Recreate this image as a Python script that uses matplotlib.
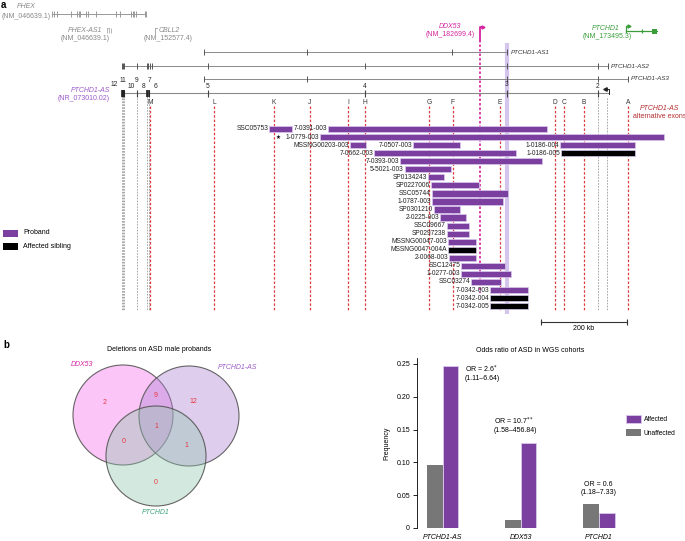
import numpy as np
import matplotlib.pyplot as plt
from matplotlib.patches import Circle, Rectangle

plt.rcParams['font.family'] = ['Liberation Sans', 'DejaVu Sans']
plt.rcParams['font.size'] = 5

purple = '#7b3f9f'
grey_bar = '#777777'
line_grey = '#8a8a8a'
red = '#e0393e'
magenta = '#d4249f'
green = '#3a9d3a'
as_purple = '#9b59c7'
dark_red = '#b32d2d'

# ---------------- panel a data (genomic positions in kb) ----------------
phex_exons = [-163, -158, -151, -119, -105, -100, -98, -84, -79, -60, -14, -5, 21, 26, 28, 33, 53, 56]
as1_exons = [191, 430, 768, 896]
as2_exons = [0, 2, 5, 35, 58, 61, 65, 70, 200, 565, 896, 1107, 1130]
as3_exons = [191, 430, 896, 1107, 1177]
as_exons = [0, 2, 5, 35, 58, 63, 200, 565, 896, 1107]
exon_num = ['12', '11', '10', '9', '8', '7', '6', '5', '4', '3', '2']
exon_num_pos = [-19, 2, 21, 33, 49, 63, 77, 200, 565, 896, 1107]

alt_names = ['M', 'L', 'K', 'J', 'I', 'H', 'G', 'F', 'E', 'D', 'C', 'B', 'A']
alt_pos = [65, 214, 354, 437, 526, 565, 714, 770, 879, 1007, 1028, 1075, 1177]

ddx53_pos = 833
exon3_pos = 896

carriers = ['SSC05753', '7-0391-003', '1-0779-003', 'MSSNG00203-003', '7-0507-003',
            '1-0186-004', '7-0662-003', '1-0186-005', '7-0393-003', '5-5021-003',
            'SP0134243', 'SP0227006', 'SSC05744', '1-0787-003', 'SP0301210',
            '2-0225-003', 'SSC09667', 'SP0297238', 'MSSNG00047-003', 'MSSNG0047-004A',
            '2-0068-003', 'SSC12475', '1-0277-003', 'SSC03274', '7-0342-003',
            '7-0342-004', '7-0342-005']
del_row = [0, 0, 1, 2, 2, 2, 3, 3, 4, 5, 6, 7, 8, 9, 10, 11, 12, 13, 14, 15, 16, 17, 18, 19, 20, 21, 22]
del_start = [342, 479, 461, 530, 677, 1019, 586, 1021, 647, 658, 712, 719, 721, 721, 726,
             740, 756, 756, 758, 758, 761, 789, 789, 812, 856, 856, 856]
del_end = [395, 989, 1261, 568, 786, 1193, 916, 1193, 977, 765, 749, 830, 898, 886, 786,
           800, 807, 807, 823, 823, 823, 891, 905, 882, 944, 944, 944]
del_sibling = [0, 0, 0, 0, 0, 0, 0, 1, 0, 0, 0, 0, 0, 0, 0, 0, 0, 0, 0, 1, 0, 0, 0, 0, 0, 1, 1]

# ---------------- panel b data ----------------
venn_sets = ['DDX53', 'PTCHD1-AS', 'PTCHD1']
venn_counts = {'DDX53': 2, 'DDX53&PTCHD1-AS': 9, 'PTCHD1-AS': 12, 'all': 1,
               'DDX53&PTCHD1': 0, 'PTCHD1-AS&PTCHD1': 1, 'PTCHD1': 0}

genes = ['PTCHD1-AS', 'DDX53', 'PTCHD1']
freq_affected = [0.247, 0.129, 0.023]
freq_unaffected = [0.096, 0.012, 0.037]
or_text = ['OR = 2.6$^{*}$', 'OR = 10.7$^{**}$', 'OR = 0.6']
ci_text = ['(1.11\u20136.64)', '(1.58\u2013456.84)', '(1.18\u20137.33)']

fig = plt.figure(figsize=(6.85, 5.41), dpi=100)

# ---------------- panel a: x in kb, y in pixel rows ----------------
ax = fig.add_axes([0, 0, 1, 1])
ax.set_xlim(-284, 1310)
ax.set_ylim(541, 0)
ax.axis('off')

ax.text(-282, 5, 'a', fontsize=7, fontweight='bold', va='center', ha='left')

# PHEX and neighbours (grey)
ax.plot([min(phex_exons), max(phex_exons)], [14, 14], color='#999999', lw=0.7)
ax.vlines(phex_exons, 11, 17, color='#999999', lw=0.7)
ax.text(-223, 6, 'PHEX', style='italic', color='#888888', ha='center', va='center')
ax.text(-223, 16, '(NM_046639.1)', color='#888888', ha='center', va='center')
ax.vlines([-34, -31, -25], 28, 33, color='#aaaaaa', lw=0.6)
ax.plot([-34, -31], [28, 28], color='#aaaaaa', lw=0.6)
ax.text(-86, 30, 'PHEX-AS1', style='italic', color='#888888', ha='center', va='center')
ax.text(-86, 38, '(NM_046639.1)', color='#888888', ha='center', va='center')
ax.plot([77, 77, 81], [34, 28, 28], color='#999999', lw=0.6)
ax.text(84, 30, 'CBLL2', style='italic', color='#888888', ha='left', va='center')
ax.text(107, 38, '(NM_152577.4)', color='#888888', ha='center', va='center')

# PTCHD1-AS transcripts
tx_names = ['PTCHD1-AS1', 'PTCHD1-AS2', 'PTCHD1-AS3']
tx_exons = [as1_exons, as2_exons, as3_exons]
tx_y = [52, 66, 79]
for name, ex, y in zip(tx_names, tx_exons, tx_y):
    ax.plot([min(ex), max(ex)], [y, y], color=line_grey, lw=0.7)
    ax.vlines(ex, y - 3, y + 3, color='#555555', lw=0.7)
    ax.text(max(ex) + 8, y, name, style='italic', color='#333333', ha='left', va='center', fontsize=4.5)

# main PTCHD1-AS transcript
ax.plot([0, 1133], [93, 93], color=line_grey, lw=0.8)
ax.vlines(as_exons, 90, 97, color='#444444', lw=0.8)
ax.vlines([0, 2, 5, 58, 63], 90, 97, color='#222222', lw=1.2)
num_y = [85, 81, 86, 81, 86, 81, 86, 86, 87, 85, 87]
for lab, x, y in zip(exon_num, exon_num_pos, num_y):
    ax.text(x, y, lab, ha='center', va='center', color='#222222', fontsize=4.8)
ax.plot([1133, 1133, 1126], [94, 89, 89], color='#222222', lw=0.7)
ax.plot([1124], [89], marker='<', ms=2.5, color='#222222')
ax.text(-28, 90, 'PTCHD1-AS', style='italic', color=as_purple, ha='right', va='center')
ax.text(-28, 99, '(NR_073010.02)', color=as_purple, ha='right', va='center')

# DDX53
ax.text(763, 27, 'DDX53', style='italic', color=magenta, ha='center', va='center')
ax.text(763, 35, '(NM_182699.4)', color=magenta, ha='center', va='center')
ax.plot([ddx53_pos, ddx53_pos, ddx53_pos + 5], [40, 27, 27], color=magenta, lw=1.3)
ax.plot([ddx53_pos + 7], [27], marker='>', ms=2.2, color=magenta)
ax.vlines(ddx53_pos, 40, 293, color=magenta, lw=1.2, linestyles=(0, (1.5, 1.2)), zorder=1)

# PTCHD1
ax.text(1126, 29, 'PTCHD1', style='italic', color=green, ha='center', va='center')
ax.text(1130, 37, '(NM_173495.3)', color=green, ha='center', va='center')
ax.plot([1172, 1172, 1178], [32, 26, 26], color=green, lw=0.9)
ax.plot([1180], [26], marker='>', ms=2.2, color=green)
ax.plot([1172, 1244], [31, 31], color=green, lw=0.9)
ax.vlines(1210, 29, 33, color=green, lw=0.9)
ax.add_patch(Rectangle((1233, 28.5), 11, 5, color=green, lw=0))

# guide lines
ax.vlines(exon3_pos, 43, 314, color='#cbb6e8', lw=3, alpha=0.8, zorder=0)
ax.vlines([0, 2, 5, 35, 58, 63, 1107, 1128], 98, 310, color='#9a9a9a', lw=0.6,
          linestyles=(0, (2, 1.5)), zorder=1)
ax.vlines(alt_pos, 106, 310, color=red, lw=0.9, linestyles=(0, (2, 1.5)), zorder=1)
for lab, x in zip(alt_names, alt_pos):
    ax.text(x, 102, lab, ha='center', va='center', color='#333333', fontsize=4.8)
ax.text(1251, 109, 'PTCHD1-AS', style='italic', color=dark_red, ha='center', va='center')
ax.text(1251, 117, 'alternative exons', color=dark_red, ha='center', va='center')

# deletions
row_y = 129 + 8.05 * np.array(del_row)
bar_col = ['black' if s else purple for s in del_sibling]
ax.barh(row_y, np.array(del_end) - np.array(del_start), left=del_start, height=6.2,
        color=bar_col, edgecolor='#d9c9ee', lw=0.5, zorder=2)
for name, x, y in zip(carriers, del_start, row_y):
    ax.text(x - 2, y, name, ha='right', va='center', fontsize=4.8, color='#222222', zorder=3)
ax.text(363, row_y[2], '\u2605', ha='center', va='center', fontsize=4, color='black')

# legend a
ax.add_patch(Rectangle((-277, 229.5), 35, 7, color=purple, lw=0))
ax.add_patch(Rectangle((-277, 242.5), 35, 7, color='black', lw=0))
ax.text(-230, 233, 'Proband', ha='left', va='center')
ax.text(-230, 246, 'Affected sibling', ha='left', va='center')

# scale bar
ax.plot([975, 1175], [322, 322], color='#333333', lw=0.8)
ax.vlines([975, 1175], 319, 325, color='#333333', lw=0.8)
ax.text(1075, 329, '200 kb', ha='center', va='center')

# ---------------- panel b: Venn ----------------
axv = fig.add_axes([0, 0, 340 / 685, 211 / 541])
axv.set_xlim(0, 340)
axv.set_ylim(541, 330)
axv.axis('off')
axv.text(3, 345, 'b', fontsize=7, fontweight='bold', va='center', ha='left')
axv.text(159, 350, 'Deletions on ASD male probands', ha='center', va='center')
venn_centres = [(123, 415), (189, 416), (156, 456)]
venn_fill = ['#f56eed', '#af82d5', '#91c6ad']
venn_lab_col = [magenta, as_purple, '#3aa37a']
for (cx, cy), fc in zip(venn_centres, venn_fill):
    axv.add_patch(Circle((cx, cy), 50, facecolor=fc, alpha=0.4, edgecolor='none'))
    axv.add_patch(Circle((cx, cy), 50, facecolor='none', edgecolor='#555555', lw=0.8, alpha=0.9))
axv.text(82, 365, venn_sets[0], style='italic', color=venn_lab_col[0], ha='center', va='center')
axv.text(237, 368, venn_sets[1], style='italic', color=venn_lab_col[1], ha='center', va='center')
axv.text(156, 513, venn_sets[2], style='italic', color=venn_lab_col[2], ha='center', va='center')
region_xy = {'DDX53': (105, 403), 'DDX53&PTCHD1-AS': (156, 396), 'PTCHD1-AS': (193, 402),
             'all': (156, 427), 'DDX53&PTCHD1': (124, 442), 'PTCHD1-AS&PTCHD1': (186, 446),
             'PTCHD1': (156, 483)}
for k, v in venn_counts.items():
    axv.text(region_xy[k][0], region_xy[k][1], str(v), color='#e8383d', ha='center', va='center')

# ---------------- panel b: odds ratio bars ----------------
axb = fig.add_axes([417 / 685, 13 / 541, 203 / 685, 170 / 541])
x = np.arange(len(genes))
w = 0.2
axb.bar(x - w / 2, freq_unaffected, w, color=grey_bar, label='Unaffected')
axb.bar(x + w / 2, freq_affected, w, color=purple, edgecolor='#d9c9ee', lw=0.6, label='Affected')
axb.set_xlim(-0.33, 2.27)
axb.set_ylim(0, 0.259)
axb.set_yticks([0, 0.05, 0.10, 0.15, 0.20, 0.25])
axb.set_yticklabels(['0', '0.05', '0.10', '0.15', '0.20', '0.25'])
axb.set_xticks(x)
axb.set_xticklabels(genes, style='italic')
axb.tick_params(axis='x', length=0, pad=4, labelsize=5)
axb.tick_params(axis='y', length=3, width=0.6, pad=2, labelsize=5)
for s in ['top', 'right', 'bottom']:
    axb.spines[s].set_visible(False)
axb.spines['left'].set_linewidth(0.6)
axb.set_ylabel('Frequency', labelpad=4)
axb.patch.set_alpha(0)

or_xy = [(0.28, 0.242, 'left'), (0.65, 0.162, 'left'), (1.99, 0.067, 'center')]
for (tx, ty, ha), t1, t2 in zip(or_xy, or_text, ci_text):
    axb.text(tx, ty, t1, ha=ha, va='center')
    axb.text(tx, ty - 0.0135, t2, ha=ha, va='center')

h, l = axb.get_legend_handles_labels()
axb.legend(h[::-1], l[::-1], loc='center left', bbox_to_anchor=(1.0, 0.6), frameon=False,
           handlelength=2.2, handleheight=1.3, handletextpad=0.5, fontsize=4.8, labelspacing=0.8)
fig.text(530 / 685, 1 - 350 / 541, 'Odds ratio of ASD in WGS cohorts', ha='center', va='center')

fig.savefig('out.png', dpi=100)
